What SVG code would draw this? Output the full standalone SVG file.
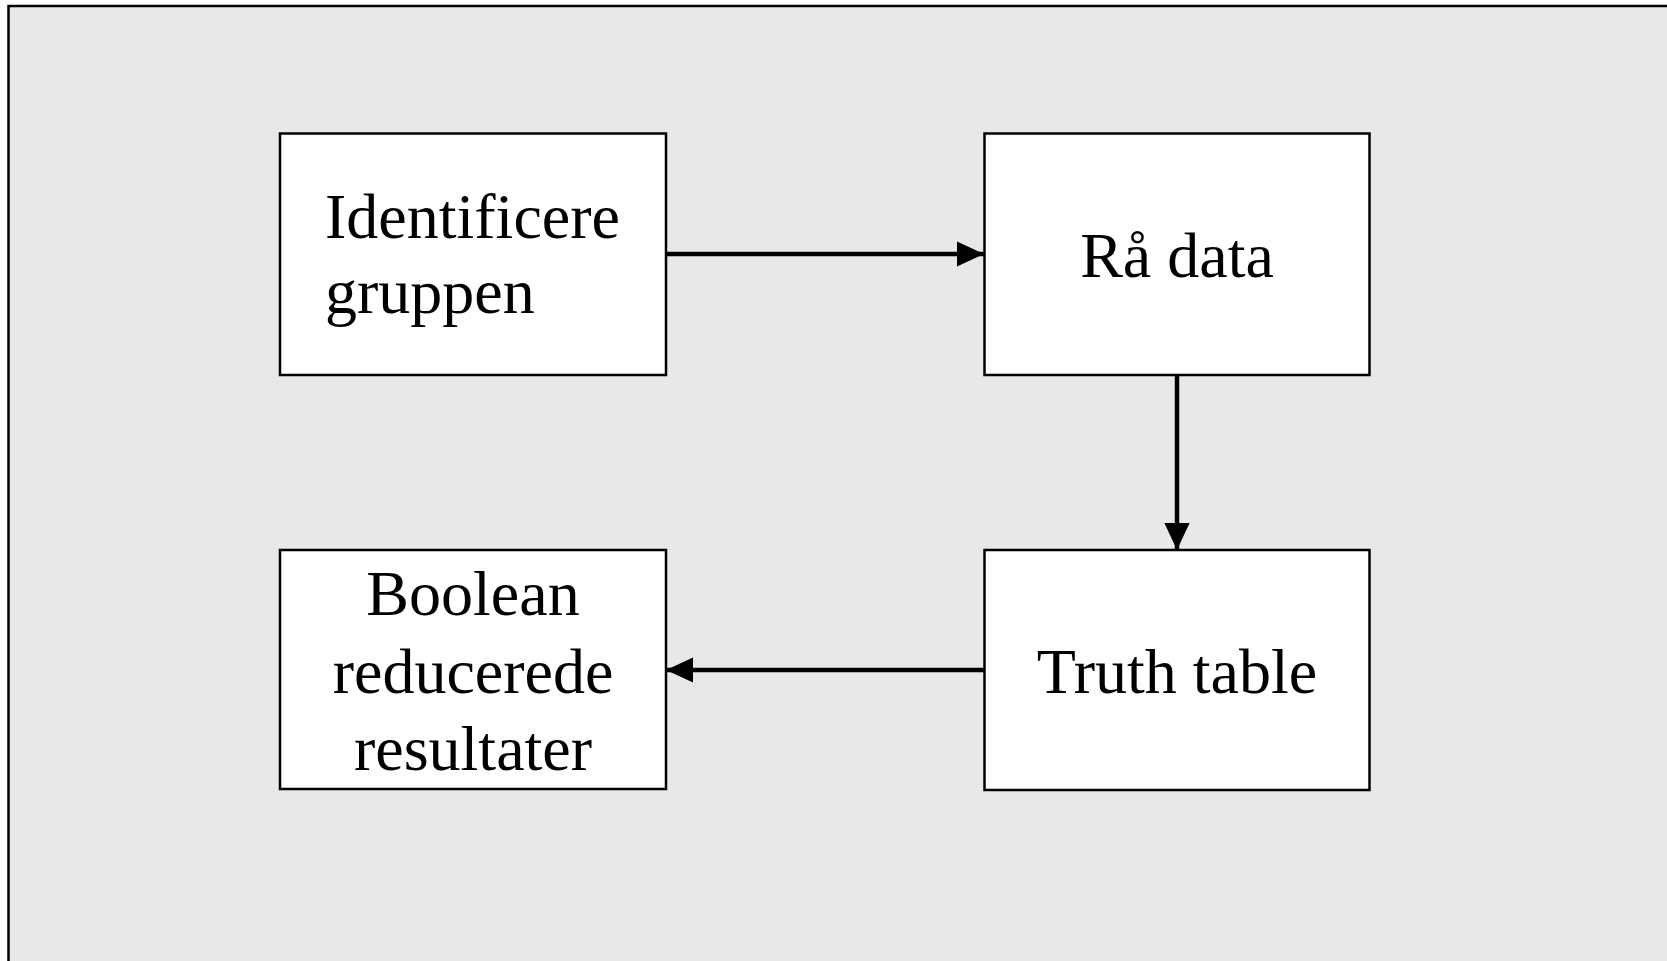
<svg xmlns="http://www.w3.org/2000/svg" width="1667" height="961" viewBox="0 0 1667 961">
<style>
.box{fill:#ffffff;stroke:#000000;stroke-width:2.5}
.lbl{font-family:"Liberation Serif","Times New Roman",serif;font-size:64px;fill:#000000}
.mid{text-anchor:middle}
.conn{stroke:#000000;stroke-width:4.5;fill:none}
</style>
<defs>
<marker id="ah" markerWidth="6" markerHeight="6" refX="6" refY="3" orient="auto" markerUnits="strokeWidth" viewBox="0 0 6 6">
<path d="M0,0.2 L6,3 L0,5.8 Z" fill="#000000"/>
</marker>
</defs>
<rect x="0" y="0" width="1667" height="961" fill="#ffffff"/>
<rect x="8.5" y="6" width="1700" height="1000" fill="#e8e8e8" stroke="#000000" stroke-width="2.5"/>
<g id="connectors">
<line class="conn" x1="666" y1="254" x2="984" y2="254" marker-end="url(#ah)"/>
<line class="conn" x1="1177" y1="375" x2="1177" y2="550" marker-end="url(#ah)"/>
<line class="conn" x1="984" y1="670" x2="666" y2="670" marker-end="url(#ah)"/>
</g>
<g id="node-identificere">
<rect class="box" x="280" y="133.5" width="386" height="241.5"/>
<text class="lbl" x="325" y="238">Identificere</text>
<text class="lbl" x="325" y="313">gruppen</text>
</g>
<g id="node-raa-data">
<rect class="box" x="984.5" y="133.5" width="385" height="241.5"/>
<text class="lbl mid" x="1177" y="277">Rå data</text>
</g>
<g id="node-truth-table">
<rect class="box" x="984.5" y="550" width="385" height="240"/>
<text class="lbl mid" x="1177" y="693">Truth table</text>
</g>
<g id="node-boolean">
<rect class="box" x="280" y="550" width="386" height="239"/>
<text class="lbl mid" x="473" y="615">Boolean</text>
<text class="lbl mid" x="473" y="693">reducerede</text>
<text class="lbl mid" x="473" y="770">resultater</text>
</g>
</svg>
